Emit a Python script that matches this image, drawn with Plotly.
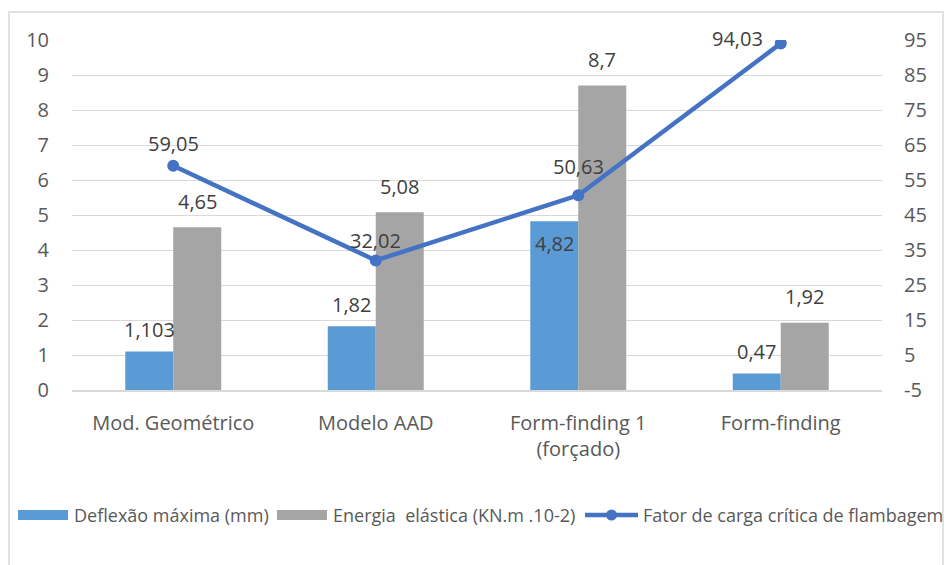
import plotly.graph_objects as go

categories = ["Mod. Geométrico", "Modelo AAD", "Form-finding 1<br>(forçado)", "Form-finding"]
deflexao = [1.103, 1.82, 4.82, 0.47]
energia = [4.65, 5.08, 8.7, 1.92]
fator = [59.05, 32.02, 50.63, 94.03]

deflexao_txt = ["1,103", "1,82", "4,82", "0,47"]
energia_txt = ["4,65", "5,08", "8,7", "1,92"]
fator_txt = ["59,05", "32,02", "50,63", "94,03"]

series_names = ["Deflexão máxima (mm)", "Energia  elástica (KN.m .10-2)",
                "Fator de carga crítica de flambagem"]

y2_ticks = [-5, 5, 15, 25, 35, 45, 55, 65, 75, 85, 95]
y2_labels = [str(v) for v in y2_ticks]  # plain hyphen for the negative tick

FONT = "Open Sans"
TXT = "#404040"
TICK = "#595959"
GRID = "#D9D9D9"
BLUE = "#5B9BD5"
GREY = "#A5A5A5"
LINE = "#4472C4"

# plot area geometry in pixels (used to place the legend outside the axes)
L, R, T, B = 72, 882, 40, 390


def px(x):
    return (x - L) / (R - L)


def py(y):
    return (B - y) / (B - T)


fig = go.Figure()
fig.add_trace(go.Bar(x=categories, y=deflexao, name=series_names[0],
                     marker=dict(color=BLUE, line=dict(width=0))))
fig.add_trace(go.Bar(x=categories, y=energia, name=series_names[1],
                     marker=dict(color=GREY, line=dict(width=0))))
fig.add_trace(go.Scatter(x=categories, y=fator, name=series_names[2],
                         yaxis="y2", mode="lines+markers",
                         line=dict(color=LINE, width=4.5),
                         marker=dict(color=LINE, size=12)))

lab_font = dict(family=FONT, size=20, color=TXT)
ann = []
# labels above the blue bars (the tall one sits inside its bar)
for i, (c, v, t) in enumerate(zip(categories, deflexao, deflexao_txt)):
    ys = -22 if i == 2 else 22
    ann.append(dict(x=c, y=v, xref="x", yref="y", text=t, showarrow=False,
                    xshift=-24, yshift=ys, font=lab_font))
# labels above the grey bars
for c, v, t in zip(categories, energia, energia_txt):
    ann.append(dict(x=c, y=v, xref="x", yref="y", text=t, showarrow=False,
                    xshift=24, yshift=26, font=lab_font))
# labels of the line points
line_shift = [(0, 22), (0, 20), (0, 29), (-43, 5)]
for (c, v, t), (dx, dy) in zip(zip(categories, fator, fator_txt), line_shift):
    ann.append(dict(x=c, y=v, xref="x", yref="y2", text=t, showarrow=False,
                    xshift=dx, yshift=dy, font=lab_font))

# legend drawn below the axes
leg_y = 515
leg_font = dict(family=FONT, size=18, color=TICK)
shapes = [dict(type="rect", xref="paper", yref="paper",
               x0=px(9), x1=px(943), y0=py(572), y1=py(12),
               line=dict(color=GRID, width=1.5), fillcolor="rgba(0,0,0,0)",
               layer="below")]
for (x0, x1, col) in [(18, 68, BLUE), (277, 327, GREY)]:
    shapes.append(dict(type="rect", xref="paper", yref="paper",
                       x0=px(x0), x1=px(x1), y0=py(leg_y + 5), y1=py(leg_y - 5),
                       line=dict(width=0), fillcolor=col))
shapes.append(dict(type="line", xref="paper", yref="paper",
                   x0=px(585), x1=px(638), y0=py(leg_y), y1=py(leg_y),
                   line=dict(color=LINE, width=4.5)))
shapes.append(dict(type="circle", xref="paper", yref="paper",
                   x0=px(606), x1=px(617), y0=py(leg_y + 5.5), y1=py(leg_y - 5.5),
                   line=dict(width=0), fillcolor=LINE))
for xs, name in zip([72, 331, 641], series_names):
    ann.append(dict(x=px(xs), y=py(leg_y), xref="paper", yref="paper", text=name,
                    showarrow=False, xanchor="left", yanchor="middle", font=leg_font))

fig.update_layout(
    width=946, height=565,
    margin=dict(l=L, r=946 - R, t=T, b=565 - B),
    paper_bgcolor="white", plot_bgcolor="white",
    barmode="group", bargap=0.526, bargroupgap=0,
    font=dict(family=FONT, size=20, color=TICK),
    xaxis=dict(showgrid=False, showline=True, linecolor=GRID, linewidth=1.5,
               ticks="", tickfont=dict(size=20, color=TICK), ticklabelstandoff=14),
    yaxis=dict(range=[0, 10], dtick=1, showgrid=True, gridcolor=GRID, gridwidth=1.3,
               zeroline=False, showline=False, ticks="",
               tickfont=dict(size=20, color=TICK), ticklabelstandoff=22),
    yaxis2=dict(range=[-5, 95], tickmode="array", tickvals=y2_ticks, ticktext=y2_labels,
                overlaying="y", side="right",
                showgrid=False, zeroline=False, showline=False, ticks="",
                tickfont=dict(size=20, color=TICK), ticklabelstandoff=21),
    showlegend=False,
    annotations=ann,
    shapes=shapes,
)

fig.write_html("out.html")
